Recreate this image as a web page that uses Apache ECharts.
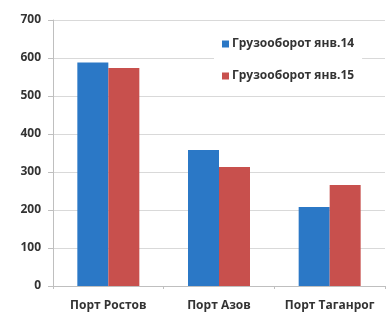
<!DOCTYPE html>
<html>
<head>
<meta charset="utf-8">
<script src="https://cdn.jsdelivr.net/npm/echarts@6/dist/echarts.min.js"></script>
<style>
  html, body { margin: 0; padding: 0; background: #fff; }
  #chart { width: 386px; height: 312px; }
</style>
</head>
<body>
<div id="chart"></div>
<script>
const ports = ['Порт Ростов', 'Порт Азов', 'Порт Таганрог'];
const seriesNames = ['Грузооборот янв.14', 'Грузооборот янв.15'];
const jan14 = [588, 358, 208];
const jan15 = [574, 313, 266];

const chart = echarts.init(document.getElementById('chart'));

const option = {
  animation: false,
  textStyle: { fontFamily: 'Open Sans, Liberation Sans, sans-serif' },
  grid: { left: 53, right: 1, top: 20, bottom: 25 },
  legend: {
    orient: 'vertical',
    left: 214,
    top: 30,
    padding: [8, 8, 8, 8],
    backgroundColor: '#fff',
    itemWidth: 7,
    itemHeight: 7,
    itemGap: 20,
    icon: 'rect',
    textStyle: { fontSize: 12, color: '#333', fontWeight: 'bold', padding: [0, 0, 0, -2] },
    data: seriesNames
  },
  xAxis: {
    type: 'category',
    data: ports,
    axisLine: { lineStyle: { color: '#bfbfbf' } },
    axisTick: { show: true, length: 3, lineStyle: { color: '#bfbfbf' } },
    axisLabel: { interval: 0, fontSize: 12, color: '#333', margin: 14, fontWeight: 'bold' }
  },
  yAxis: {
    type: 'value',
    min: 0,
    max: 700,
    interval: 100,
    axisLine: { show: true, lineStyle: { color: '#bfbfbf' } },
    axisTick: { show: true, length: 5, lineStyle: { color: '#bfbfbf' } },
    axisLabel: { fontSize: 12, color: '#333', margin: 12, fontWeight: 'bold' },
    splitLine: { lineStyle: { color: '#d9d9d9' } }
  },
  series: [
    {
      name: seriesNames[0],
      type: 'bar',
      data: jan14,
      barWidth: 31,
      barGap: '0%',
      itemStyle: { color: '#2b78c6' }
    },
    {
      name: seriesNames[1],
      type: 'bar',
      data: jan15,
      barWidth: 31,
      barGap: '0%',
      itemStyle: { color: '#c8504d' }
    }
  ]
};

chart.setOption(option);
</script>
</body>
</html>
